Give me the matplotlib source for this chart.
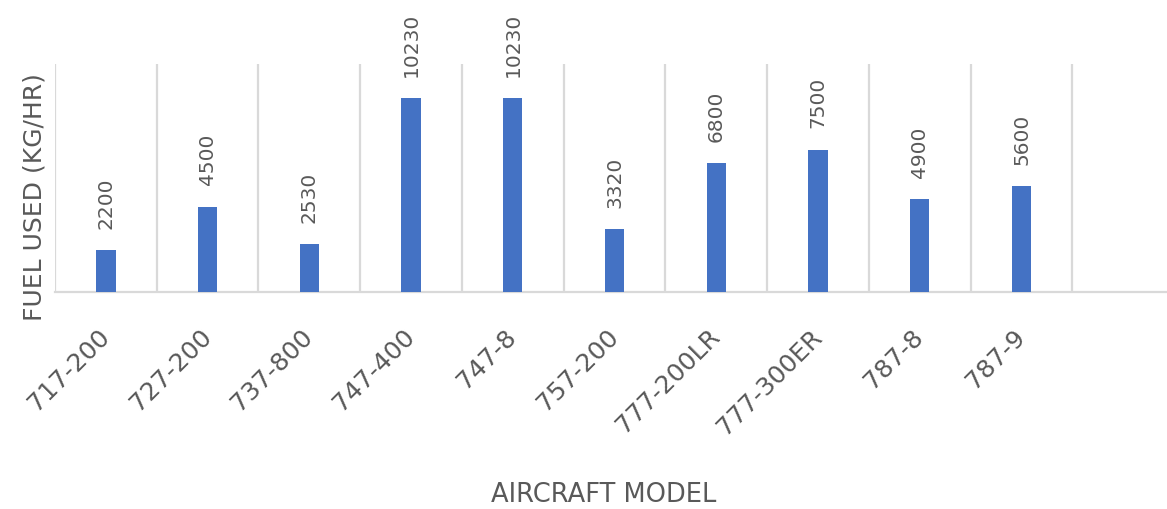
# Fuel used per aircraft model, column chart
import matplotlib.pyplot as plt

models = ["717-200", "727-200", "737-800", "747-400", "747-8",
          "757-200", "777-200LR", "777-300ER", "787-8", "787-9"]
fuel_used = [2200, 4500, 2530, 10230, 10230, 3320, 6800, 7500, 4900, 5600]

grey = "#595959"
grid_grey = "#d9d9d9"

fig = plt.figure(figsize=(11.67, 5.10), dpi=100)
ax = fig.add_axes([55 / 1167, 1 - 293 / 510, 1 - 55 / 1167, (293 - 65) / 510])

x = list(range(len(models)))
ax.bar(x, fuel_used, width=0.19, color="#4472C4", zorder=3)

for xi, v in zip(x, fuel_used):
    ax.annotate(str(v), (xi, v), xytext=(0, 22), textcoords="offset pixels",
                rotation=90, ha="center", va="bottom", fontsize=14.5, color=grey)

# vertical gridlines at category boundaries
for b in range(len(models) + 1):
    ax.axvline(b - 0.5, color=grid_grey, linewidth=1.6, zorder=1)

ax.set_xlim(-0.5, 10.43)
ax.set_ylim(0, 12000)
ax.set_yticks([])
ax.set_xticks(x)
ax.set_xticklabels(models, rotation=45, ha="right", va="center",
                   rotation_mode="anchor", fontsize=18, color=grey)
ax.tick_params(axis="x", length=0, pad=29)

for s in ["top", "right", "left"]:
    ax.spines[s].set_visible(False)
ax.spines["bottom"].set_color(grid_grey)
ax.spines["bottom"].set_linewidth(1.6)

fig.text(35 / 1167, 1 - 197 / 510, "FUEL USED (KG/HR)", rotation=90,
         ha="center", va="center", fontsize=18, color=grey)
fig.text(604 / 1167, 1 - 495 / 510, "AIRCRAFT MODEL",
         ha="center", va="center", fontsize=18.5, color=grey)

fig.savefig("out.png", dpi=100)
